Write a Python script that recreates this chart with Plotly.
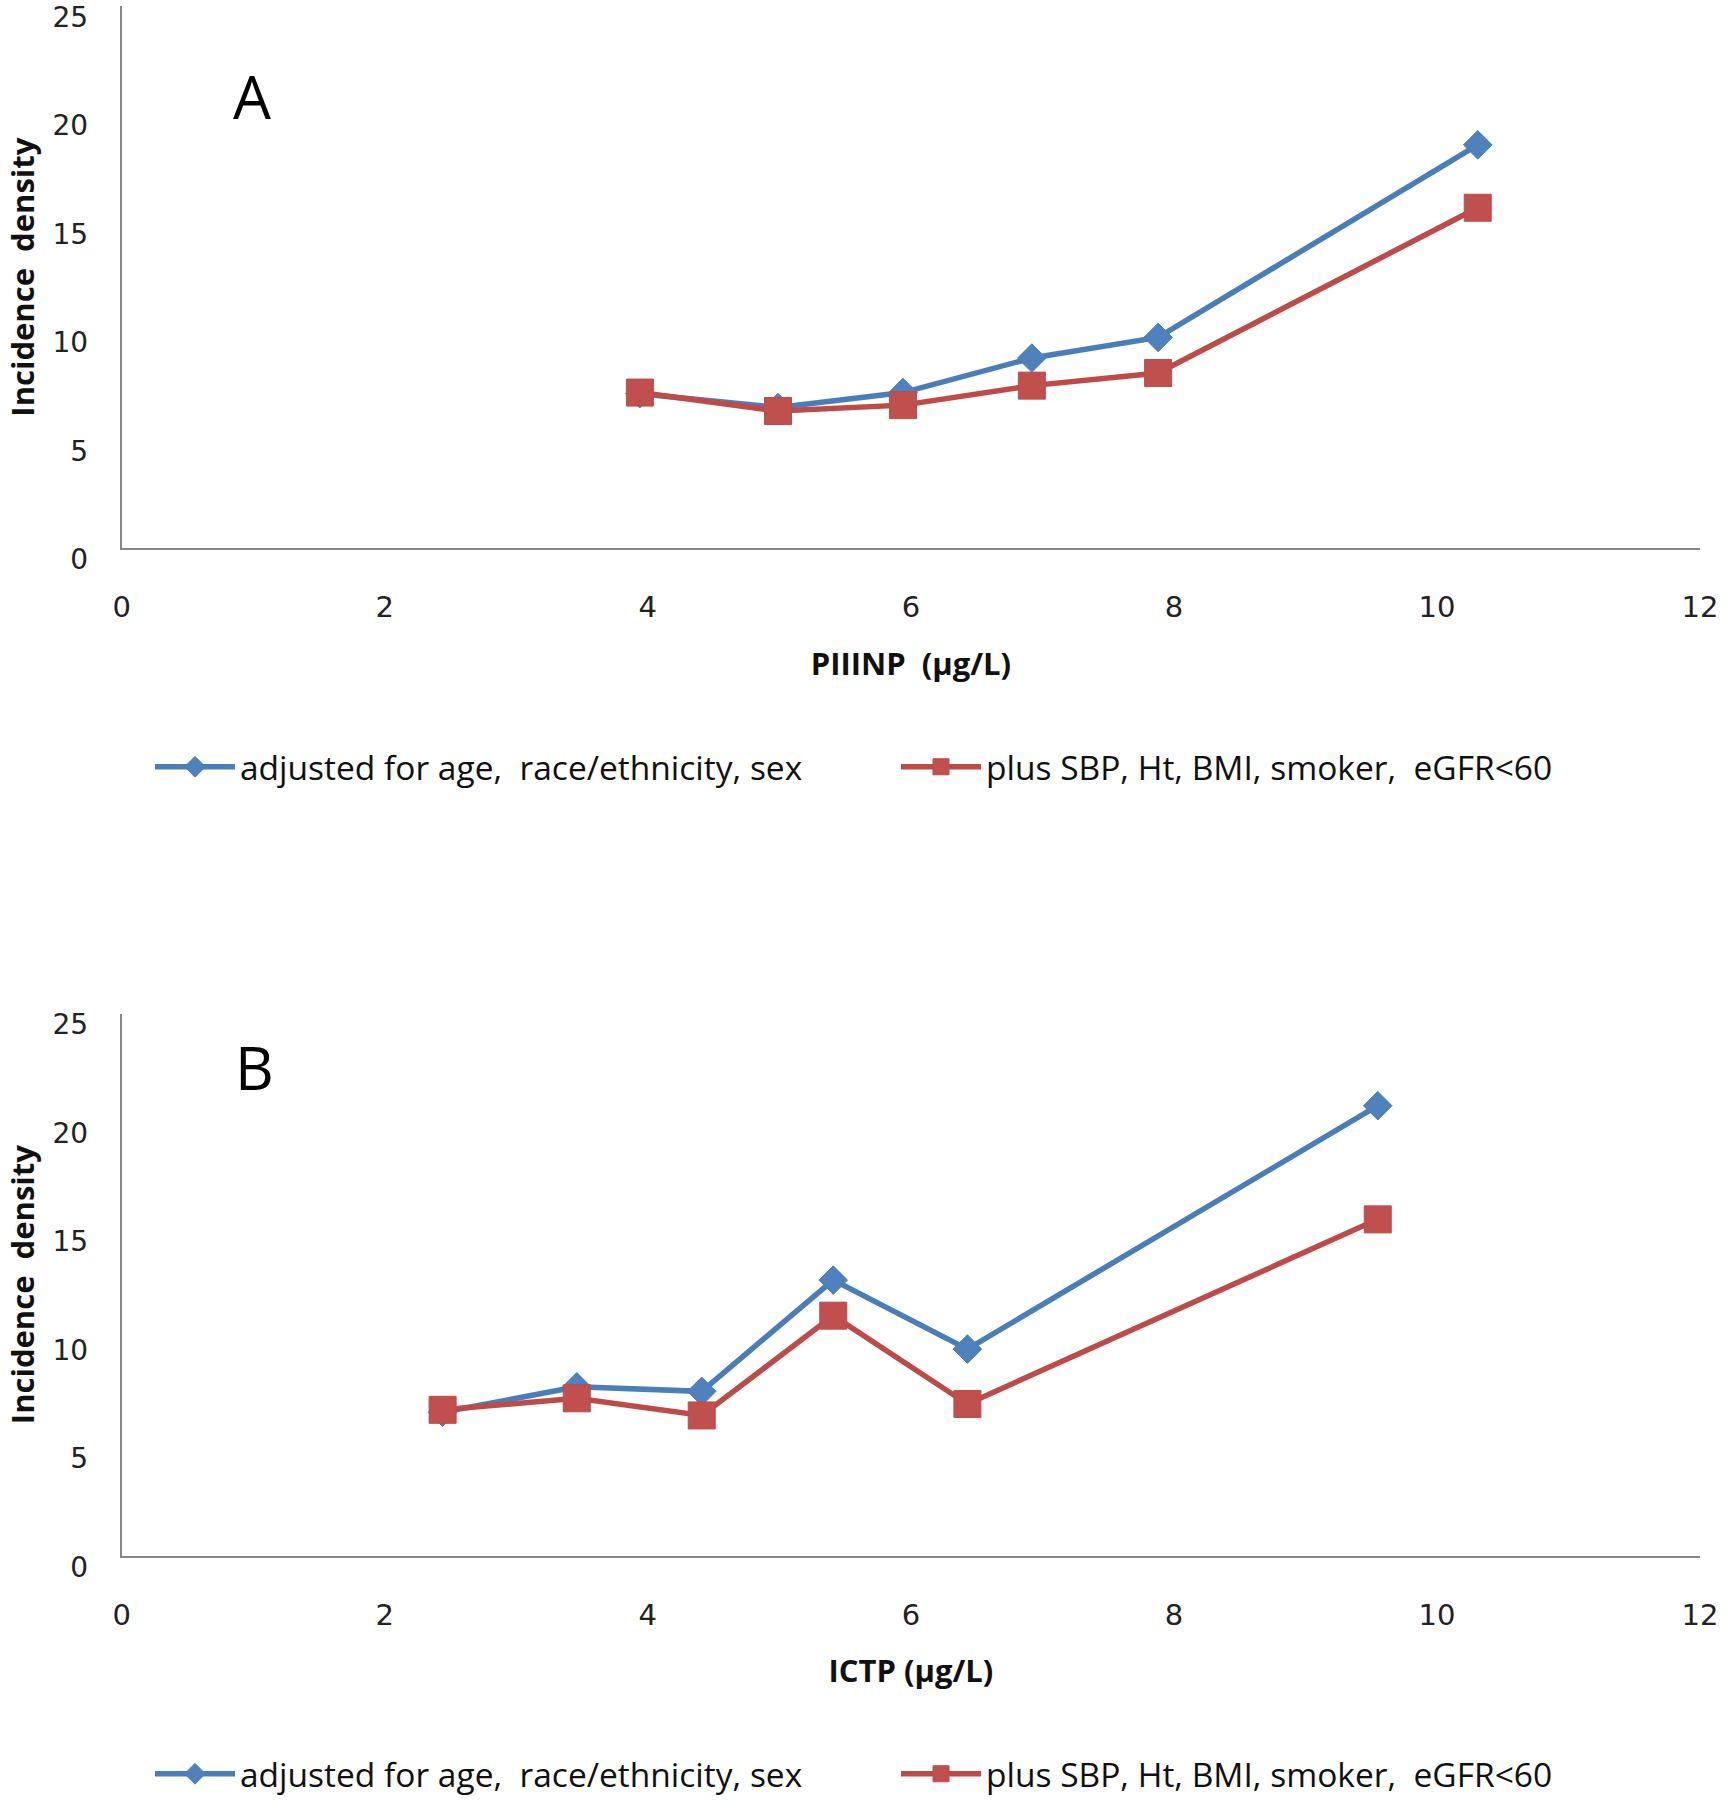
import plotly.graph_objects as go

# Panel A: PIIINP
piiinp_x = [3.94, 4.99, 5.94, 6.92, 7.88, 10.31]
piiinp_adj = [7.13, 6.49, 7.18, 8.77, 9.72, 18.6]
piiinp_plus = [7.18, 6.33, 6.6, 7.5, 8.08, 15.7]

# Panel B: ICTP
ictp_x = [2.44, 3.46, 4.41, 5.41, 6.43, 9.55]
ictp_adj = [6.62, 7.79, 7.58, 12.71, 9.53, 20.75]
ictp_plus = [6.73, 7.26, 6.47, 11.07, 7.0, 15.51]

series_names = ["adjusted for age,  race/ethnicity, sex", "plus SBP, Ht, BMI, smoker,  eGFR<60"]
x_ticks = [0, 2, 4, 6, 8, 10, 12]
y_ticks = [0, 5, 10, 15, 20, 25]

BLUE_LINE = "#4A7EBB"
BLUE_MARK = "#4F81BD"
RED_LINE = "#BE4B48"
RED_MARK = "#C0504D"

W, H = 1727, 1800
fig = go.Figure()

def add_pair(x, adj, plus, xa, ya, legend):
    fig.add_trace(go.Scatter(
        x=x, y=adj, mode="lines+markers", name=series_names[0],
        line=dict(color=BLUE_LINE, width=5.5),
        marker=dict(symbol="diamond", size=22, color=BLUE_MARK, line=dict(color=BLUE_LINE, width=1)),
        xaxis=xa, yaxis=ya, legend=legend))
    fig.add_trace(go.Scatter(
        x=x, y=plus, mode="lines+markers", name=series_names[1],
        line=dict(color=RED_LINE, width=5.5),
        marker=dict(symbol="square", size=27, color=RED_MARK, line=dict(color=RED_LINE, width=1)),
        xaxis=xa, yaxis=ya, legend=legend))

add_pair(piiinp_x, piiinp_adj, piiinp_plus, "x", "y", "legend")
add_pair(ictp_x, ictp_adj, ictp_plus, "x2", "y2", "legend2")

def px_x(v):
    return v / W

def px_y(v):
    return (H - v) / H

dom_x = [px_x(121.7), px_x(1700.0)]
domA = [px_y(548.3), px_y(6.0)]
domB = [px_y(1555.8), px_y(1013.5)]

xtick_font = dict(family="DejaVu Sans", size=29, color="#222222")
ytick_font = dict(family="DejaVu Sans", size=28, color="#222222")
title_font = dict(family="Open Sans", size=31, color="#111111")

def xaxis(title, anchor):
    return dict(domain=dom_x, range=[0, 12], tickvals=x_ticks, showgrid=False, zeroline=False,
                showline=True, linecolor="#888888", linewidth=2, ticks="", tickfont=xtick_font,
                ticklabelstandoff=32, ticklabeloverflow="allow", anchor=anchor, automargin=False,
                title=dict(text="<b>" + title + "</b>", font=title_font, standoff=30))

def yaxis(dom, anchor):
    return dict(domain=dom, range=[0, 25], tickvals=y_ticks, showgrid=False, zeroline=False,
                showline=True, linecolor="#888888", linewidth=2, ticks="", tickfont=ytick_font,
                ticklabelstandoff=26, ticklabelshift=11, ticklabeloverflow="allow",
                anchor=anchor, automargin=False,
                title=dict(text="<b>Incidence  density</b>", font=title_font, standoff=9))

legend_common = dict(orientation="h", xanchor="left", yanchor="middle",
                     font=dict(family="Open Sans", size=33.5, color="#111111"),
                     entrywidth=651, entrywidthmode="pixels", itemwidth=80,
                     bgcolor="rgba(0,0,0,0)", tracegroupgap=0)

fig.update_layout(
    width=W, height=H, margin=dict(l=0, r=0, t=0, b=0, autoexpand=False),
    paper_bgcolor="white", plot_bgcolor="white",
    xaxis=xaxis("PIIINP  (µg/L)", "y"),
    yaxis=yaxis(domA, "x"),
    xaxis2=xaxis("ICTP (µg/L)", "y2"),
    yaxis2=yaxis(domB, "x2"),
    legend=dict(x=px_x(150), y=px_y(767), **legend_common),
    legend2=dict(x=px_x(150), y=px_y(1774), **legend_common),
    annotations=[
        dict(text="A", x=px_x(252), y=px_y(96), xref="paper", yref="paper", showarrow=False,
             xanchor="center", yanchor="middle",
             font=dict(family="Open Sans", size=60, color="#000000")),
        dict(text="B", x=px_x(254), y=px_y(1067), xref="paper", yref="paper", showarrow=False,
             xanchor="center", yanchor="middle",
             font=dict(family="Open Sans", size=60, color="#000000")),
    ],
)

fig.write_html("out.html", config={"displayModeBar": False},
               post_script="document.body.style.margin='0';document.documentElement.style.overflow='hidden';")
